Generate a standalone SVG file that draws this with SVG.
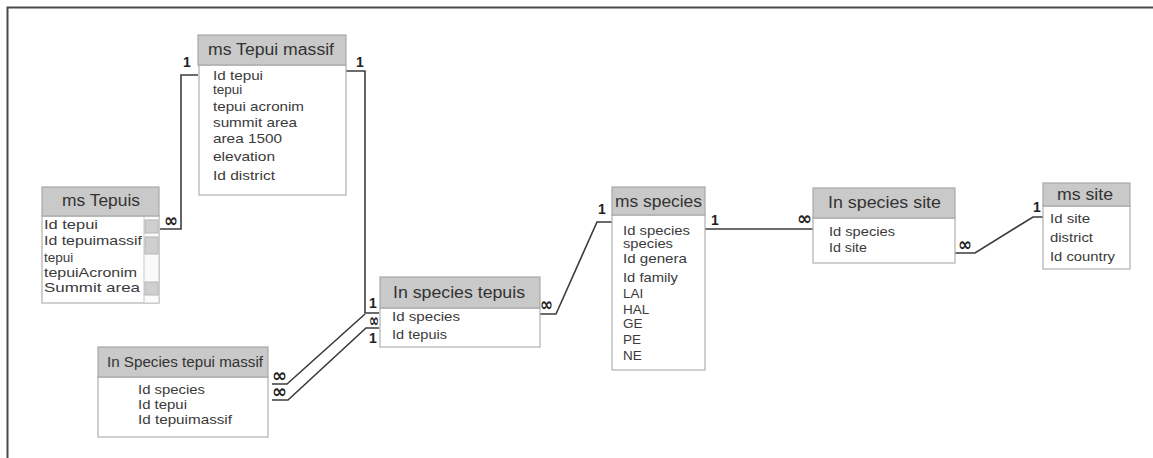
<svg xmlns="http://www.w3.org/2000/svg" width="1153" height="458" viewBox="0 0 1153 458">
<style>
.hd{fill:#c9c9c9;stroke:#a8a8a8;stroke-width:1.2}
.bd{fill:#ffffff;stroke:#b0b0b0;stroke-width:1.2}
.ht{font-family:"Liberation Sans",Arial,sans-serif;font-size:16px;fill:#333}
.bt{font-family:"Liberation Sans",Arial,sans-serif;font-size:13.5px;fill:#3a3a3a}
.lb{font-family:"Liberation Sans","DejaVu Sans",Arial,sans-serif;font-size:14px;font-weight:bold;fill:#222}
.inf{font-family:"DejaVu Sans","Liberation Sans",sans-serif;font-size:19px;font-weight:bold;fill:#222}
.cn{fill:none;stroke:#3c3c3c;stroke-width:1.6}
.sq{fill:#cfcfcf;stroke:#b5b5b5;stroke-width:1}
</style>
<rect width="1153" height="458" fill="#ffffff"/>
<path d="M7.5,458 V7.5 H1153" fill="none" stroke="#4a4a4a" stroke-width="2"/>

<g id="connectors">
<path class="cn" d="M160,229 H181 V75 H198"/>
<path class="cn" d="M346,71 H365 V313 H379"/>
<path class="cn" d="M272,384 H287 L365,314"/>
<path class="cn" d="M272,400 H288 L366,328 H379"/>
<path class="cn" d="M540,314 H556 L597,222 H612"/>
<path class="cn" d="M705,229 H813" stroke-width="2"/>
<path class="cn" d="M955,253 H975 L1033,217 H1043"/>
<text class="lb" x="183" y="67">1</text>
<text class="lb" x="356" y="67">1</text>
<text class="inf" x="164" y="227" textLength="14" lengthAdjust="spacingAndGlyphs">∞</text>
<text class="lb" x="369" y="308">1</text>
<text class="inf" x="369" y="327" textLength="10" lengthAdjust="spacingAndGlyphs">∞</text>
<text class="lb" x="369" y="343">1</text>
<text class="inf" x="272" y="382" textLength="15" lengthAdjust="spacingAndGlyphs">∞</text>
<text class="inf" x="272" y="398" textLength="15" lengthAdjust="spacingAndGlyphs">∞</text>
<text class="inf" x="540" y="311" textLength="13" lengthAdjust="spacingAndGlyphs">∞</text>
<text class="lb" x="598" y="214">1</text>
<text class="lb" x="711" y="225">1</text>
<text class="inf" x="797" y="225" textLength="15" lengthAdjust="spacingAndGlyphs">∞</text>
<text class="inf" x="958" y="251" textLength="14" lengthAdjust="spacingAndGlyphs">∞</text>
<text class="lb" x="1033" y="212">1</text>
</g>

<g id="ms-tepui-massif">
<rect class="bd" x="199" y="65" width="147" height="130"/>
<rect class="hd" x="198" y="35" width="148" height="30"/>
<text class="ht" x="208" y="55" textLength="126" lengthAdjust="spacingAndGlyphs">ms Tepui massif</text>
<text class="bt" x="213" y="80" textLength="50" lengthAdjust="spacingAndGlyphs">Id tepui</text>
<text class="bt" x="213" y="94">tepui</text>
<text class="bt" x="213" y="111" textLength="91" lengthAdjust="spacingAndGlyphs">tepui acronim</text>
<text class="bt" x="213" y="127" textLength="84" lengthAdjust="spacingAndGlyphs">summit area</text>
<text class="bt" x="213" y="143" textLength="69" lengthAdjust="spacingAndGlyphs">area 1500</text>
<text class="bt" x="213" y="161" textLength="62" lengthAdjust="spacingAndGlyphs">elevation</text>
<text class="bt" x="213" y="180" textLength="62" lengthAdjust="spacingAndGlyphs">Id district</text>
</g>

<g id="ms-tepuis">
<rect class="bd" x="42" y="216" width="117" height="87"/>
<rect x="144" y="216" width="15" height="87" fill="#fafafa" stroke="#c8c8c8" stroke-width="1"/>
<rect class="sq" x="145" y="220" width="13" height="13"/>
<rect class="sq" x="145" y="237" width="13" height="17"/>
<rect class="sq" x="145" y="282" width="13" height="13"/>
<rect class="hd" x="42" y="187" width="117" height="29"/>
<text class="ht" x="62" y="206" textLength="78" lengthAdjust="spacingAndGlyphs">ms Tepuis</text>
<text class="bt" x="44" y="229" textLength="54" lengthAdjust="spacingAndGlyphs">Id tepui</text>
<text class="bt" x="44" y="245" textLength="98" lengthAdjust="spacingAndGlyphs">Id tepuimassif</text>
<text class="bt" x="44" y="262">tepui</text>
<text class="bt" x="44" y="277" textLength="93" lengthAdjust="spacingAndGlyphs">tepuiAcronim</text>
<text class="bt" x="44" y="292" textLength="96" lengthAdjust="spacingAndGlyphs">Summit area</text>
</g>

<g id="in-species-tepui-massif">
<rect class="bd" x="98" y="377" width="170" height="60"/>
<rect class="hd" x="98" y="347" width="170" height="30"/>
<text class="ht" x="107" y="367" style="font-size:14px" textLength="156" lengthAdjust="spacingAndGlyphs">In Species tepui massif</text>
<text class="bt" x="138" y="394" textLength="67" lengthAdjust="spacingAndGlyphs">Id species</text>
<text class="bt" x="138" y="409" textLength="49" lengthAdjust="spacingAndGlyphs">Id tepui</text>
<text class="bt" x="138" y="424" textLength="94" lengthAdjust="spacingAndGlyphs">Id tepuimassif</text>
</g>

<g id="in-species-tepuis">
<rect class="bd" x="380" y="308" width="160" height="39"/>
<rect class="hd" x="380" y="277" width="160" height="31"/>
<text class="ht" x="393" y="298" textLength="132" lengthAdjust="spacingAndGlyphs">In species tepuis</text>
<text class="bt" x="392" y="321" textLength="68" lengthAdjust="spacingAndGlyphs">Id species</text>
<text class="bt" x="392" y="339" textLength="55" lengthAdjust="spacingAndGlyphs">Id tepuis</text>
</g>

<g id="ms-species">
<rect class="bd" x="612" y="215" width="93" height="155"/>
<rect class="hd" x="612" y="187" width="93" height="28"/>
<text class="ht" x="615" y="207" textLength="87" lengthAdjust="spacingAndGlyphs">ms species</text>
<text class="bt" x="623" y="235" textLength="67" lengthAdjust="spacingAndGlyphs">Id species</text>
<text class="bt" x="623" y="248" textLength="50" lengthAdjust="spacingAndGlyphs">species</text>
<text class="bt" x="623" y="263" textLength="64" lengthAdjust="spacingAndGlyphs">Id genera</text>
<text class="bt" x="623" y="282" textLength="55" lengthAdjust="spacingAndGlyphs">Id family</text>
<text class="bt" x="623" y="298">LAI</text>
<text class="bt" x="623" y="314">HAL</text>
<text class="bt" x="623" y="328">GE</text>
<text class="bt" x="623" y="344">PE</text>
<text class="bt" x="623" y="360">NE</text>
</g>

<g id="in-species-site">
<rect class="bd" x="813" y="218" width="142" height="45"/>
<rect class="hd" x="813" y="188" width="142" height="30"/>
<text class="ht" x="828" y="208" textLength="113" lengthAdjust="spacingAndGlyphs">In species site</text>
<text class="bt" x="829" y="236" textLength="66" lengthAdjust="spacingAndGlyphs">Id species</text>
<text class="bt" x="829" y="252" textLength="38" lengthAdjust="spacingAndGlyphs">Id site</text>
</g>

<g id="ms-site">
<rect class="bd" x="1043" y="206" width="87" height="63"/>
<rect class="hd" x="1043" y="183" width="87" height="23"/>
<text class="ht" x="1057" y="200" textLength="56" lengthAdjust="spacingAndGlyphs">ms site</text>
<text class="bt" x="1050" y="223" textLength="40" lengthAdjust="spacingAndGlyphs">Id site</text>
<text class="bt" x="1050" y="242" textLength="43" lengthAdjust="spacingAndGlyphs">district</text>
<text class="bt" x="1050" y="261" textLength="65" lengthAdjust="spacingAndGlyphs">Id country</text>
</g>
</svg>
